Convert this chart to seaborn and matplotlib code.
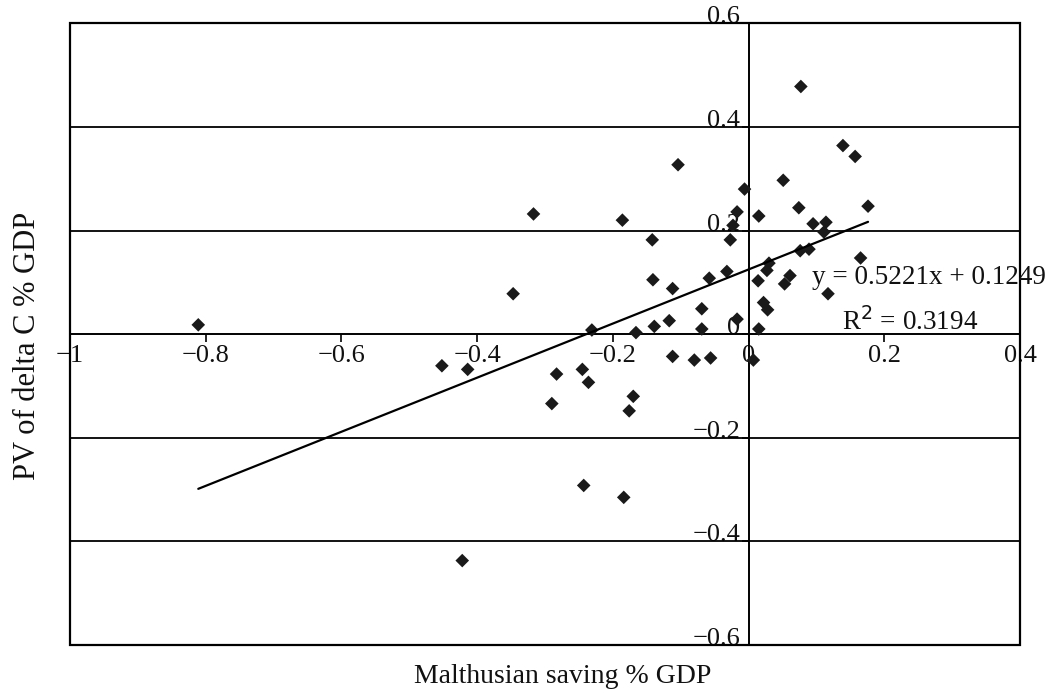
import numpy as np
import pandas as pd
import matplotlib
matplotlib.use("Agg")
import matplotlib.pyplot as plt
import seaborn as sns
from matplotlib.patches import Rectangle
from matplotlib.ticker import FixedLocator, FixedFormatter

# ---- data ----
malthusian_saving = [
    -0.811, 0.077, 0.139, 0.157, -0.104, 0.051, -0.006, 0.176, 0.074, -0.317,
    -0.017, 0.015, -0.186, 0.114, 0.095, -0.023, 0.111, -0.142, -0.027, 0.089,
    0.076, 0.165, 0.030, 0.027, -0.032, 0.061, -0.058, -0.141, 0.014, 0.053,
    -0.112, -0.347, 0.117, 0.022, -0.069, 0.028, -0.017, -0.117, -0.139, -0.069,
    0.015, -0.231, -0.166, -0.112, -0.056, -0.080, 0.007, -0.452, -0.414, -0.245,
    -0.283, -0.236, -0.170, -0.290, -0.176, -0.243, -0.184, -0.422,
]
pv_delta_c = [
    0.018, 0.478, 0.364, 0.343, 0.327, 0.297, 0.280, 0.247, 0.244, 0.232,
    0.236, 0.228, 0.220, 0.216, 0.213, 0.210, 0.197, 0.182, 0.182, 0.164,
    0.161, 0.147, 0.137, 0.123, 0.121, 0.113, 0.108, 0.105, 0.103, 0.097,
    0.088, 0.078, 0.078, 0.061, 0.049, 0.047, 0.029, 0.026, 0.015, 0.010,
    0.010, 0.008, 0.003, -0.043, -0.046, -0.050, -0.050, -0.061, -0.068, -0.068,
    -0.077, -0.093, -0.120, -0.134, -0.148, -0.292, -0.315, -0.437,
]
trend_slope = 0.5221
trend_intercept = 0.1249
trend_r2 = 0.3194

x_ticks = [-1.0, -0.8, -0.6, -0.4, -0.2, 0.0, 0.2, 0.4]
x_tick_labels = ["\u22121", "\u22120.8", "\u22120.6", "\u22120.4", "\u22120.2", "0", "0.2", "0.4"]
y_ticks = [-0.6, -0.4, -0.2, 0.0, 0.2, 0.4, 0.6]
y_tick_labels = ["\u22120.6", "\u22120.4", "\u22120.2", "0", "0.2", "0.4", "0.6"]
grid_levels = [-0.4, -0.2, 0.2, 0.4]

x_label = "Malthusian saving % GDP"
y_label = "PV of delta C % GDP"

# ---- style ----
sns.set_theme(style="white")
plt.rcParams["font.family"] = ["Liberation Serif", "DejaVu Serif"]

fig = plt.figure(figsize=(10.53, 6.95), dpi=100)
ax = fig.add_axes([0.0665, 0.0719, 0.9022, 0.8946])

df = pd.DataFrame({"x": malthusian_saving, "y": pv_delta_c})

for g in grid_levels:
    ax.axhline(g, color="black", lw=1.3, zorder=1)

sns.scatterplot(data=df, x="x", y="y", marker="D", s=48, color="#1a1a1a",
                edgecolor="none", linewidth=0, ax=ax, zorder=3)

xs = np.array([df["x"].min(), df["x"].max()])
sns.lineplot(x=xs, y=trend_slope * xs + trend_intercept, color="black",
             lw=1.6, ax=ax, zorder=4)

ax.set_xlim(-1.0, 0.4)
ax.set_ylim(-0.6, 0.6)

# axes through zero
ax.spines["left"].set_position(("data", 0))
ax.spines["bottom"].set_position(("data", 0))
ax.spines["top"].set_visible(False)
ax.spines["right"].set_visible(False)
for s in ["left", "bottom"]:
    ax.spines[s].set_color("black")
    ax.spines[s].set_linewidth(1.4)
    ax.spines[s].set_zorder(2)

# outer box
ax.add_patch(Rectangle((0, 0), 1, 1, transform=ax.transAxes, fill=False,
                       edgecolor="black", lw=1.6, zorder=5, clip_on=False))

ax.xaxis.set_major_locator(FixedLocator(x_ticks))
ax.xaxis.set_major_formatter(FixedFormatter(x_tick_labels))
ax.yaxis.set_major_locator(FixedLocator(y_ticks))
ax.yaxis.set_major_formatter(FixedFormatter(y_tick_labels))
ax.tick_params(axis="x", bottom=True, direction="out", length=6, width=1.2,
               color="black", labelsize=19, pad=2, labelcolor="#111111")
ax.tick_params(axis="y", left=True, direction="out", length=5, width=1.2,
               color="black", labelsize=19, pad=1, labelcolor="#111111")
for lab in ax.get_xticklabels() + ax.get_yticklabels():
    lab.set_zorder(6)
for lab in ax.get_yticklabels():
    lab.set_va("baseline")

ax.set_xlabel(x_label, fontsize=20, color="#111111")
ax.set_ylabel(y_label, fontsize=22, color="#111111")
ax.xaxis.set_label_coords(0.519, -0.05)
ax.xaxis.label.set_va("center")
ax.yaxis.set_label_coords(-0.0443, 0.481)
ax.yaxis.label.set_va("center")

ax.text(0.093, 0.109, f"y = {trend_slope:.4f}x + {trend_intercept:.4f}",
        fontsize=19.5, ha="left", va="center", color="#111111", zorder=6)
ax.text(0.2386, 0.024, f"R$^2$ = {trend_r2:.4f}", fontsize=19.5,
        ha="center", va="center", color="#111111", zorder=6)

fig.savefig("out.png", dpi=100, facecolor="white")
